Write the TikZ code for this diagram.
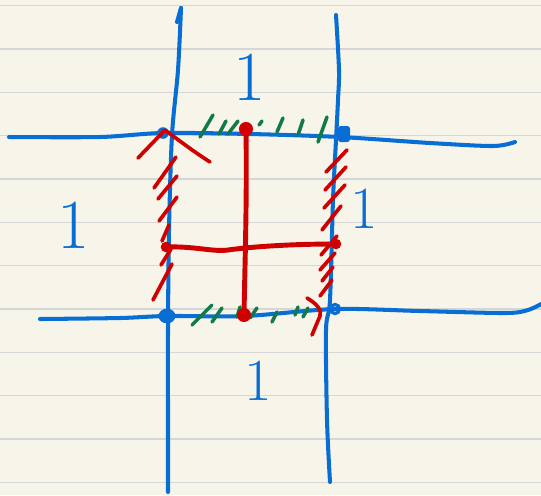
\documentclass[tikz,border=0pt]{standalone}
\usetikzlibrary{calc}

\definecolor{paper}{RGB}{247,245,234}
\definecolor{rulegray}{RGB}{214,214,214}
\definecolor{penblue}{RGB}{8,110,212}
\definecolor{penred}{RGB}{208,0,0}
\definecolor{pengreen}{RGB}{18,122,72}

\begin{document}
\begin{tikzpicture}[
  x=0.02cm, y=-0.02cm,
  rule/.style={draw=rulegray,line width=0.85pt},
  bln/.style={draw=penblue,line width=2.3pt,line cap=round,line join=round},
  rln/.style={draw=penred,line width=2.8pt,line cap=round,line join=round},
  rht/.style={draw=penred,line width=2.1pt,line cap=round,line join=round},
  ght/.style={draw=pengreen,line width=2.0pt,line cap=round},
  lbl/.style={text=penblue,inner sep=0pt}
]

% ---- paper ----
\path[fill=paper,use as bounding box] (0,0) rectangle (541,495);
\clip (0,0) rectangle (541,495);
\foreach \k in {0,...,11} {
  \draw[rule] (0,{5.7+43.33*\k}) -- (541,{5.7+43.33*\k});
}

% ---- corners of the cell ----
\coordinate (tl) at (163,133);
\coordinate (tr) at (344,134);
\coordinate (bl) at (167,316);
\coordinate (br) at (335,309);

% ---- blue grid ----
\draw[bln] plot[smooth,tension=0.5] coordinates
  {(9,137) (100,137) (tl) (250,134) (340,137) (430,143) (493,146) (515,142)};
\draw[bln] plot[smooth,tension=0.5] coordinates
  {(40,319) (120,318) (bl) (245,316) (br) (420,311) (505,313) (528,310) (545,302)};
\draw[bln] (177,22) -- (181,8);
\draw[bln] plot[smooth,tension=0.5] coordinates
  {(181,8) (178,70) (172,135) (169,230) (168,330) (168,420) (168,492)};
\draw[bln] plot[smooth,tension=0.5] coordinates
  {(336,15) (339,70) (338,100) (336,140) (333,200) (330,300) (326,330) (327,420) (330,482)};

% corner dots
\fill[penblue] (tl) circle[radius=3.3pt];
\fill[penblue,rounded corners=1.5pt] ($(tr)+(-6,-8)$) rectangle ($(tr)+(6,8)$);
\fill[penblue] (bl) ellipse[x radius=4.8pt,y radius=4.2pt];
\draw[penblue,line width=1.8pt] (br) circle[radius=2.6pt];

% ---- green hatching ----
\foreach \xa/\ya/\xb/\yb in {200/137/213/115, 219/134/226/121, 228/134/238/121,
                             259/125/262/121, 277/132/283/118, 298/135/303/120,
                             318/142/327/117} {
  \draw[ght] (\xa,\ya) -- (\xb,\yb);
}
\foreach \xa/\ya/\xb/\yb in {192/325/212/305, 212/322/222/308, 237/317/240/307,
                             250/318/257/308, 272/322/277/312, 295/315/298/307,
                             303/317/308/308} {
  \draw[ght] (\xa,\ya) -- (\xb,\yb);
}

% ---- red hatching ----
\foreach \xa/\ya/\xb/\yb in {154/188/176/157, 158/199/177/176, 159/221/177/197,
                             162/241/169/225, 161/265/171/249, 153/300/172/264} {
  \draw[rht] (\xa,\ya) -- (\xb,\yb);
}
\foreach \xa/\ya/\xb/\yb in {326/172/347/150, 325/190/346/167, 324/208/345/185,
                             322/230/341/206, 321/255/337/236, 320/270/335/253,
                             322/281/333/267, 320/296/332/280} {
  \draw[rht] (\xa,\ya) -- (\xb,\yb);
}

% ---- red cross ----
\coordinate (rt) at (246,129);
\coordinate (rb) at (244,315);
\coordinate (rl) at (166,247);
\coordinate (rr) at (336,244);
\draw[rln] (rt) .. controls (247,200) and (245,260) .. (rb);
\draw[rln] (rl) .. controls (195,246) and (212,252) .. (228,250)
  .. controls (242,248) and (280,244) .. (rr);
\fill[penred] (rt) circle[radius=4pt];
\fill[penred] (rb) circle[radius=4pt];
\fill[penred] (rl) circle[radius=3pt];
\fill[penred] (rr) circle[radius=3pt];

% turning marks
\draw[rht] (138,158) -- (165,130) .. controls (185,145) and (196,153) .. (210,162);
\draw[rht] (307,298) .. controls (317,304) and (322,310) .. (320,316) -- (312,335);

% ---- labels ----
\node[lbl,font=\fontsize{40}{40}\selectfont] (oneT) at (250,77) {1};
\node[lbl,font=\fontsize{40}{40}\selectfont] (oneL) at (74,225) {1};
\node[lbl,font=\fontsize{34}{34}\selectfont] (oneR) at (364,209) {1};
\node[lbl,font=\fontsize{34}{34}\selectfont] (oneB) at (258,381) {1};

\end{tikzpicture}
\end{document}
